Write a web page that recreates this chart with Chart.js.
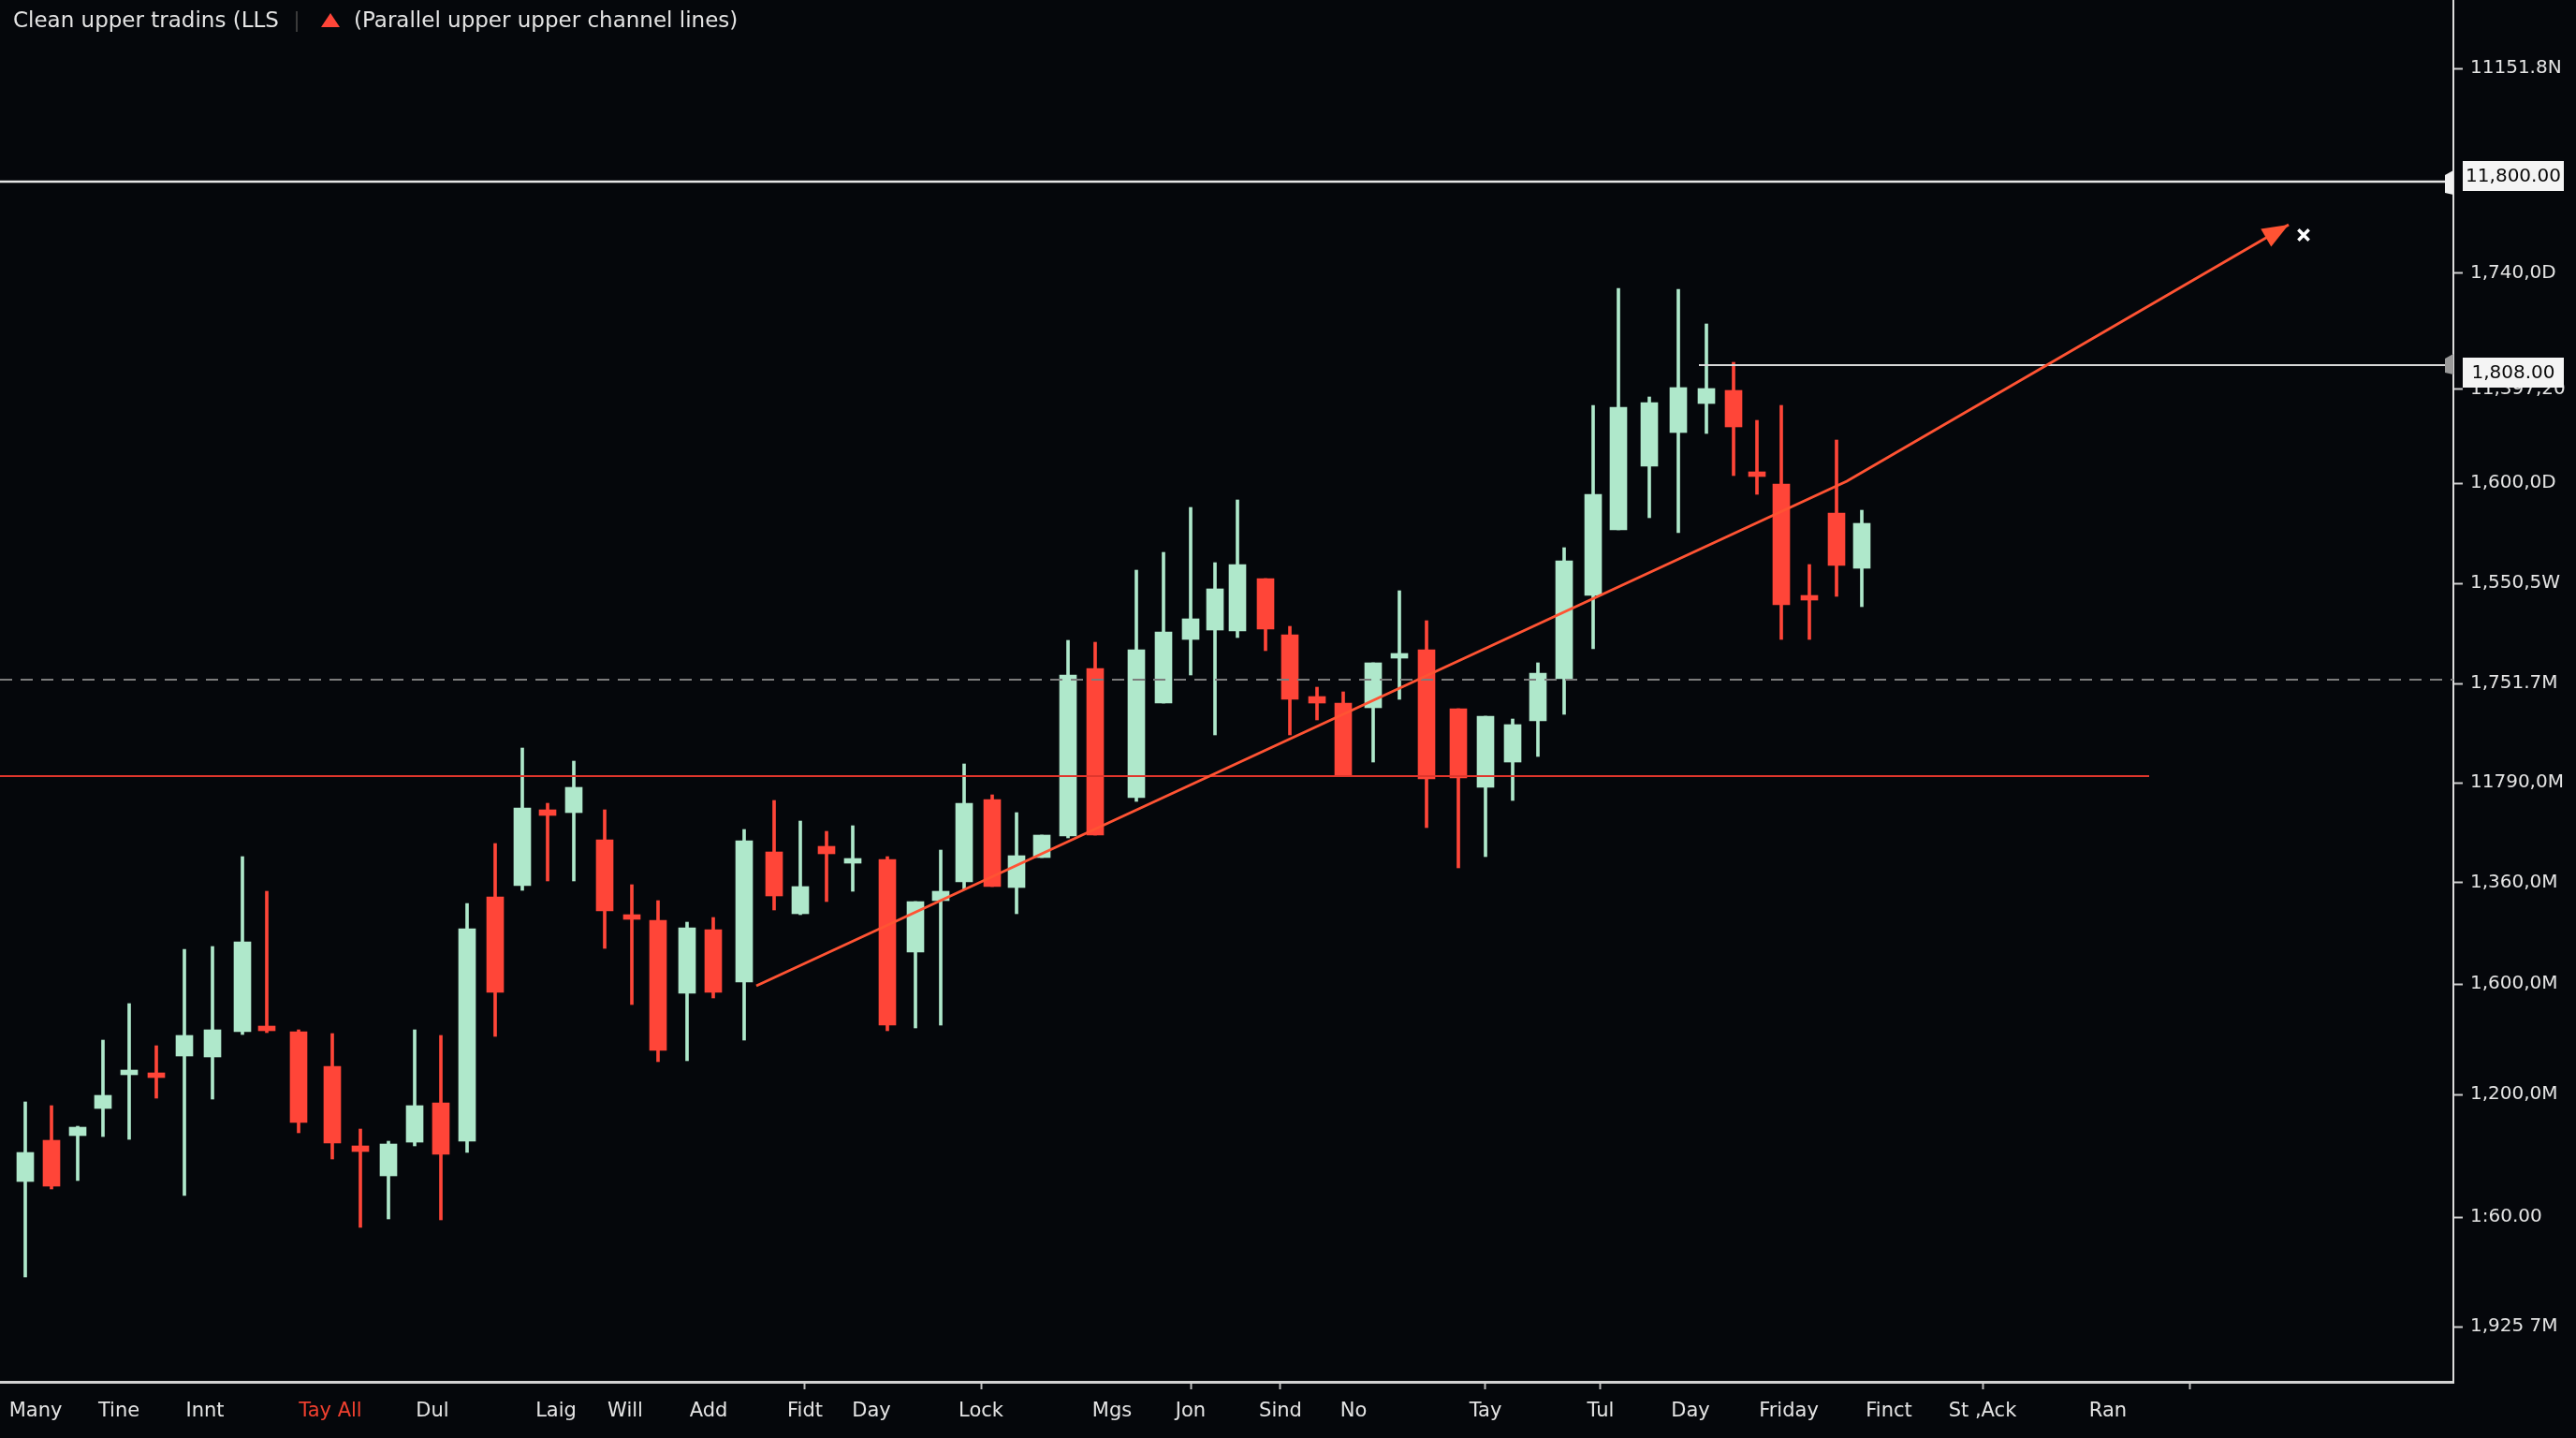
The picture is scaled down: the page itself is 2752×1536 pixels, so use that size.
<!DOCTYPE html>
<html>
<head>
<meta charset="utf-8">
<script src="https://cdn.jsdelivr.net/npm/chart.js@4.4.1/dist/chart.umd.min.js"></script>
<style>
  html, body { margin: 0; padding: 0; background: #05070b; }
  #chart { display: block; }
</style>
</head>
<body>
<canvas id="chart" width="2752" height="1536"></canvas>
<script>
// candle times (session units) and OHLC prices
const times = [2.7, 5.5, 8.3, 11.0, 13.8, 16.7, 19.7, 22.7, 25.9, 28.5, 31.9, 35.5, 38.5, 41.5, 44.3, 47.1, 49.9, 52.9, 55.8, 58.5,
  61.3, 64.6, 67.5, 70.3, 73.4, 76.2, 79.5, 82.7, 85.5, 88.3, 91.1, 94.8, 97.8, 100.5, 103.0, 106.0, 108.6, 111.3, 114.1, 117.0,
  121.4, 124.3, 127.2, 129.8, 132.2, 135.2, 137.8, 140.7, 143.5, 146.7, 149.5, 152.4, 155.8, 158.7, 161.6, 164.3, 167.1, 170.2,
  172.9, 176.2, 179.3, 182.3, 185.2, 187.7, 190.3, 193.3, 196.2, 198.9];
const opens = [1107, 1129, 1131.5, 1146, 1164, 1164.5, 1174, 1173.5, 1187, 1190, 1187, 1168.5, 1126, 1110, 1128, 1149, 1128.5, 1259, 1265, 1305.5,
  1304, 1289.5, 1249.5, 1246.5, 1207.5, 1241.5, 1213.5, 1283, 1250, 1286, 1277, 1279, 1229.5, 1257, 1267, 1311, 1264, 1280, 1291.5, 1381,
  1312, 1362.5, 1396.5, 1401.5, 1401, 1429, 1399, 1366, 1362.5, 1360, 1386.5, 1391, 1359.5, 1317.5, 1331, 1353, 1375.5, 1420,
  1455, 1489, 1507, 1522.5, 1529.5, 1485, 1479.5, 1419.5, 1464, 1434.5];
const highs = [1149.5, 1147.5, 1136.5, 1182.5, 1202, 1179.5, 1231, 1232.5, 1280.5, 1262, 1188, 1186, 1135, 1128.5, 1188, 1185, 1255.5, 1287.5, 1338.5, 1309,
  1331.5, 1305.5, 1265.5, 1257, 1245.5, 1248, 1295, 1310.5, 1299.5, 1294, 1297, 1280.5, 1256.5, 1284, 1330, 1313.5, 1304, 1292, 1396, 1395,
  1433.5, 1443, 1467, 1437.5, 1471, 1429, 1403.5, 1371, 1368.5, 1384, 1422.5, 1406.5, 1359.5, 1355.5, 1354, 1384, 1445.5, 1521.5,
  1584, 1526, 1583.5, 1565, 1544.5, 1513.5, 1521.5, 1436.5, 1503, 1465.5];
const lows = [1056, 1103, 1107.5, 1131, 1129.5, 1151.5, 1099.5, 1151, 1185.5, 1186.5, 1133, 1119, 1082.5, 1087, 1126, 1086.5, 1122.5, 1184.5, 1262.5, 1267.5,
  1267.5, 1231.5, 1201.5, 1171, 1171.5, 1205, 1182.5, 1252, 1249.5, 1256.5, 1262, 1187.5, 1189, 1190.5, 1263, 1264.5, 1250, 1280, 1290.5, 1292,
  1310, 1362.5, 1377.5, 1345.5, 1397.5, 1390.5, 1345.5, 1353.5, 1324, 1331, 1364.5, 1296, 1274.5, 1280.5, 1310.5, 1334, 1356.5, 1391.5,
  1455, 1461.5, 1453.5, 1506.5, 1484, 1474, 1396.5, 1396.5, 1419.5, 1414];
const closes = [1122.5, 1104.5, 1136, 1153, 1166.5, 1162.5, 1185, 1188, 1235, 1187.5, 1138.5, 1127.5, 1123, 1127, 1147.5, 1121.5, 1242, 1208, 1306.5, 1302.5,
  1317.5, 1251.5, 1247, 1177, 1242.5, 1208, 1289, 1259.5, 1264.5, 1282, 1278.5, 1190.5, 1256.5, 1262, 1309, 1264.5, 1281, 1292, 1377.5, 1292,
  1391, 1400.5, 1407.5, 1423.5, 1436.5, 1402, 1364.5, 1362.5, 1324, 1384, 1388.5, 1322, 1322.5, 1355.5, 1351, 1378.5, 1438.5, 1474,
  1520.5, 1523, 1531, 1530.5, 1510, 1483.5, 1415, 1417.5, 1436, 1458.5];

// price axis
const priceMin = 1000, priceMax = 1738;
const priceTicks = [1701.5, 1592, 1530, 1480, 1426.5, 1373, 1320, 1266.5, 1212.5, 1153.5, 1088, 1029.5];
const priceLabels = ['11151.8N', '1,740,0D', '11,397,20', '1,600,0D', '1,550,5W', '1,751.7M', '11790,0M', '1,360,0M',
  '1,600,0M', '1,200,0M', '1:60.00', '1,925 7M'];

// time axis
const timeMax = 262.1;
const dateTicks = [3.8, 12.7, 21.9, 35.3, 46.2, 59.4, 66.8, 75.7, 86.0, 93.1, 104.8, 118.8, 127.2, 136.8, 144.6, 158.7,
  171.0, 180.6, 191.1, 201.8, 211.8, 225.2, 233.9];
const dateLabels = ['Many', 'Tine', 'Innt', 'Tay All', 'Dul', 'Laig', 'Will', 'Add', 'Fidt', 'Day', 'Lock', 'Mgs', 'Jon', 'Sind',
  'No', 'Tay', 'Tul', 'Day', 'Friday', 'Finct', 'St ,Ack', 'Ran', ''];
const dateMarks = [0, 0, 0, 0, 0, 0, 0, 0, 1, 0, 1, 0, 1, 1, 0, 1, 1, 0, 0, 0, 1, 0, 1];
const highlightLabel = 'Tay All';

// drawn levels
const resistance = 1641;
const pivotLevel = 1543, pivotStart = 181.5;
const midLevel = 1375;
const supportLevel = 1323.5, supportEnd = 229.6;
const trendT = [80.8, 197.3, 244.5];
const trendP = [1211.5, 1481, 1618];
const targetT = 246.1, targetP = 1612.5;
const levelTags = ['11,800.00', '1,808.00'];

const legendMain = 'Clean upper tradins (LLS';
const legendSub = '(Parallel upper upper channel lines)';

const UP = '#afe8cb';
const DOWN = '#ff4538';
const TREND = '#ff5333';

const isUp = opens.map((o, i) => closes[i] >= o);
const candleColors = isUp.map(u => u ? UP : DOWN);

const bodies = times.map((t, i) => ({ x: t, y: [opens[i], closes[i]] }));
const wicks = times.map((t, i) => ({ x: t, y: [lows[i], highs[i]] }));

function levelLine(p, from, to) {
  return [{ x: from, y: p }, { x: to, y: p }];
}

const overlayPlugin = {
  id: 'overlay',
  afterDatasetsDraw(chart) {
    const ctx = chart.ctx;
    // arrow head on the trend line
    const meta = chart.getDatasetMeta(2);
    const pts = meta.data;
    const a = pts[pts.length - 1], b = pts[pts.length - 2];
    const ang = Math.atan2(a.y - b.y, a.x - b.x);
    ctx.save();
    ctx.fillStyle = TREND;
    ctx.translate(a.x, a.y);
    ctx.rotate(ang);
    ctx.beginPath();
    ctx.moveTo(0, 0);
    ctx.lineTo(-28, -11);
    ctx.lineTo(-28, 11);
    ctx.closePath();
    ctx.fill();
    ctx.restore();
  },
  afterDraw(chart) {
    const ctx = chart.ctx;
    const y = chart.scales.y;
    const area = chart.chartArea;

    // level tags on the price axis
    const levels = [resistance, pivotLevel];
    const nudges = [-6, 8];
    levels.forEach((p, i) => {
      const py = y.getPixelForValue(p);
      ctx.save();
      // small flag on the axis
      ctx.fillStyle = i === 0 ? '#f0f0f0' : '#9a9a9a';
      ctx.beginPath();
      ctx.moveTo(area.right, py - 12);
      ctx.lineTo(area.right - 9, py - 7);
      ctx.lineTo(area.right - 9, py + (i === 0 ? 12 : 8));
      ctx.lineTo(area.right, py + (i === 0 ? 14 : 10));
      ctx.closePath();
      ctx.fill();
      const cy = py + nudges[i];
      ctx.fillStyle = '#f4f4f4';
      ctx.fillRect(area.right + 10, cy - 16, 108, 32);
      ctx.fillStyle = '#0a0a0a';
      ctx.font = '20px "DejaVu Sans"';
      ctx.textAlign = 'center';
      ctx.textBaseline = 'middle';
      ctx.fillText(levelTags[i], area.right + 64, cy + 1);
      ctx.restore();
    });

    // legend line
    ctx.save();
    ctx.font = '23px "DejaVu Sans"';
    ctx.textBaseline = 'middle';
    ctx.fillStyle = '#e4e4e4';
    ctx.fillText(legendMain, 14, 23);
    ctx.fillStyle = '#3a3a3a';
    ctx.fillRect(316, 12, 2, 22);
    ctx.fillStyle = DOWN;
    ctx.beginPath();
    ctx.moveTo(353, 14);
    ctx.lineTo(363, 29);
    ctx.lineTo(343, 29);
    ctx.closePath();
    ctx.fill();
    ctx.fillStyle = '#e4e4e4';
    ctx.fillText(legendSub, 378, 23);
    ctx.restore();
  }
};

new Chart(document.getElementById('chart'), {
  type: 'bar',
  data: {
    datasets: [
      {
        label: 'bodies',
        data: bodies,
        backgroundColor: candleColors,
        borderWidth: 0,
        barThickness: 18,
        minBarLength: 5,
        grouped: false,
        order: 2
      },
      {
        label: 'wicks',
        data: wicks,
        backgroundColor: candleColors,
        borderWidth: 0,
        barThickness: 3,
        grouped: false,
        order: 3
      },
      {
        type: 'line',
        label: 'trend',
        data: trendT.map((t, i) => ({ x: t, y: trendP[i] })),
        borderColor: TREND,
        borderWidth: 3,
        pointRadius: 0,
        tension: 0,
        order: 0
      },
      {
        type: 'line',
        label: 'resistance',
        data: levelLine(resistance, 0, timeMax),
        borderColor: '#e6e6e6',
        borderWidth: 2.5,
        pointRadius: 0,
        order: 1
      },
      {
        type: 'line',
        label: 'pivot',
        data: levelLine(pivotLevel, pivotStart, timeMax),
        borderColor: '#d8d8d8',
        borderWidth: 2,
        pointRadius: 0,
        order: 1
      },
      {
        type: 'line',
        label: 'mid',
        data: levelLine(midLevel, 0, timeMax),
        borderColor: '#7c7c7c',
        borderWidth: 2,
        borderDash: [13, 9],
        pointRadius: 0,
        order: 1
      },
      {
        type: 'line',
        label: 'support',
        data: levelLine(supportLevel, 0, supportEnd),
        borderColor: '#e0362c',
        borderWidth: 2,
        pointRadius: 0,
        order: 1
      },
      {
        type: 'line',
        label: 'target',
        data: [{ x: targetT, y: targetP }],
        showLine: false,
        pointStyle: 'crossRot',
        pointRadius: 8,
        pointBorderWidth: 3.5,
        pointBorderColor: '#ffffff',
        order: 0
      }
    ]
  },
  options: {
    responsive: false,
    animation: false,
    devicePixelRatio: 1,
    layout: { padding: 0, autoPadding: false },
    plugins: {
      legend: { display: false },
      tooltip: { enabled: false }
    },
    scales: {
      x: {
        type: 'linear',
        min: 0,
        max: timeMax,
        offset: false,
        afterBuildTicks: (scale) => {
          scale.ticks = dateTicks.map(v => ({ value: v }));
        },
        afterFit: (scale) => {
          scale.height = 60;
          scale.paddingLeft = 0;
          scale.paddingRight = 0;
        },
        grid: {
          offset: false,
          drawOnChartArea: false,
          drawTicks: true,
          tickLength: 8,
          tickWidth: 2,
          tickColor: (c) => dateMarks[c.index] ? '#bdbdbd' : 'rgba(0,0,0,0)'
        },
        border: { display: true, color: '#d2d2d2', width: 3 },
        ticks: {
          autoSkip: false,
          maxRotation: 0,
          padding: 11,
          font: { family: 'DejaVu Sans', size: 21 },
          color: (c) => dateLabels[c.index] === highlightLabel ? '#f0402f' : '#e4e4e4',
          callback: (v, i) => dateLabels[i]
        }
      },
      y: {
        type: 'linear',
        position: 'right',
        min: priceMin,
        max: priceMax,
        afterBuildTicks: (scale) => {
          scale.ticks = priceTicks.map(v => ({ value: v }));
        },
        afterFit: (scale) => {
          scale.width = 131;
          scale.paddingTop = 0;
          scale.paddingBottom = 0;
        },
        grid: {
          drawOnChartArea: false,
          drawTicks: true,
          tickLength: 10,
          tickWidth: 2,
          tickColor: '#cfcfcf'
        },
        border: { display: true, color: '#dcdcdc', width: 2 },
        ticks: {
          padding: 8,
          font: { family: 'DejaVu Sans', size: 20 },
          color: '#e4e4e4',
          callback: (v, i) => priceLabels[i]
        }
      }
    }
  },
  plugins: [overlayPlugin]
});
</script>
</body>
</html>
